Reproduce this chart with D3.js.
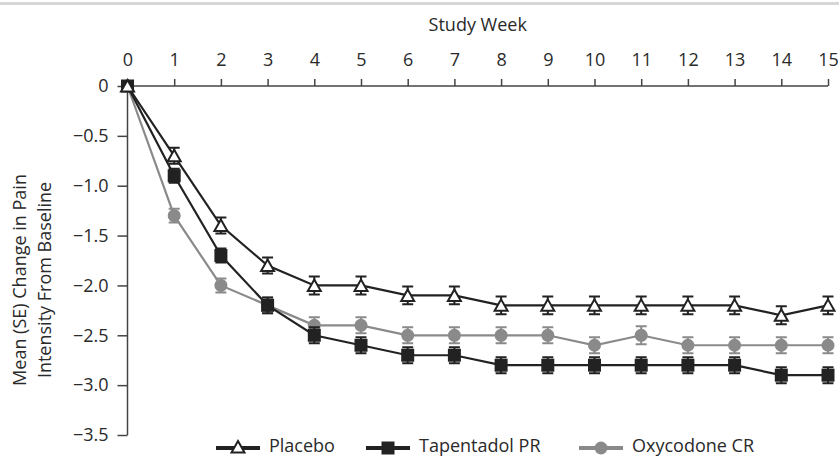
<!DOCTYPE html>
<meta charset="utf-8">
<style>
body { margin: 0; background: #fff; }
svg { display: block; font-family: "Open Sans", sans-serif; }
.axis text { font-family: "Open Sans", sans-serif; font-size: 18px; fill: #2a2a2a; }
.axis path, .axis line { stroke: #444; stroke-width: 1.5px; }
</style>
<body>
<svg width="839" height="457"></svg>
<script src="https://cdn.jsdelivr.net/npm/d3@7"></script>
<script>

var weeks = [0, 1, 2, 3, 4, 5, 6, 7, 8, 9, 10, 11, 12, 13, 14, 15];
var yTicks = [0, -0.5, -1.0, -1.5, -2.0, -2.5, -3.0, -3.5];

var placebo    = [0, -0.7, -1.4, -1.8, -2.0, -2.0, -2.1, -2.1, -2.2, -2.2, -2.2, -2.2, -2.2, -2.2, -2.3, -2.2];
var tapentadol = [0, -0.9, -1.7, -2.2, -2.5, -2.6, -2.7, -2.7, -2.8, -2.8, -2.8, -2.8, -2.8, -2.8, -2.9, -2.9];
var oxycodone  = [0, -1.3, -2.0, -2.2, -2.4, -2.4, -2.5, -2.5, -2.5, -2.5, -2.6, -2.5, -2.6, -2.6, -2.6, -2.6];

var placeboSE    = [0, 0.08, 0.08, 0.08, 0.09, 0.09, 0.09, 0.09, 0.09, 0.09, 0.09, 0.09, 0.09, 0.09, 0.09, 0.09];
var tapentadolSE = [0, 0.07, 0.07, 0.08, 0.08, 0.08, 0.08, 0.08, 0.08, 0.08, 0.08, 0.08, 0.08, 0.08, 0.08, 0.08];
var oxycodoneSE  = [0, 0.07, 0.07, 0.08, 0.08, 0.08, 0.08, 0.08, 0.08, 0.08, 0.08, 0.09, 0.08, 0.08, 0.08, 0.08];

var seriesNames = ["Placebo", "Tapentadol PR", "Oxycodone CR"];

var series = [
  {name: seriesNames[0], values: placebo, se: placeboSE, color: "#222", symbol: "triangle"},
  {name: seriesNames[1], values: tapentadol, se: tapentadolSE, color: "#222", symbol: "square"},
  {name: seriesNames[2], values: oxycodone, se: oxycodoneSE, color: "#8a8a8a", symbol: "circle"}
];

var svg = d3.select("svg");

// thin grey rule along the very top
svg.append("rect")
    .attr("x", 0).attr("y", 2)
    .attr("width", 839).attr("height", 3)
    .attr("fill", "#d6d6d6");

var x = d3.scaleLinear().domain([0, 15]).range([127.5, 828]),
    y = d3.scaleLinear().domain([-3.5, 0]).range([435, 86]);

// x axis on top
var xAxis = svg.append("g")
    .attr("class", "axis")
    .attr("transform", "translate(0," + y(0) + ")")
    .call(d3.axisTop(x).tickValues(weeks).tickSize(7).tickSizeOuter(0).tickPadding(13));
xAxis.select(".domain").attr("d", "M" + x(0) + ",0H" + x(15));

svg.append("text")
    .attr("x", (x(0) + x(15)) / 2)
    .attr("y", 31)
    .attr("text-anchor", "middle")
    .style("font-size", "18px")
    .style("fill", "#2a2a2a")
    .text("Study Week");

// y axis
var yAxis = svg.append("g")
    .attr("class", "axis")
    .attr("transform", "translate(" + x(0) + ",0)")
    .call(d3.axisLeft(y).tickValues(yTicks).tickSize(10).tickSizeOuter(0).tickPadding(9)
      .tickFormat(function(d) { return d === 0 ? "0" : d3.format(".1f")(d).replace("-", "\u2212"); }));
yAxis.select(".domain").attr("d", "M0," + y(-3.5) + "V" + y(0));

var title = svg.append("text")
    .attr("transform", "translate(0,280) rotate(-90)")
    .attr("text-anchor", "middle")
    .style("font-size", "18px")
    .style("fill", "#2a2a2a");
title.append("tspan").attr("x", 0).attr("y", 26).text("Mean (SE) Change in Pain");
title.append("tspan").attr("x", 0).attr("y", 51).text("Intensity From Baseline");

var line = d3.line()
    .x(function(d, i) { return x(weeks[i]); })
    .y(function(d) { return y(d); });

function drawSymbol(sel, s, cx, cy) {
  if (s.symbol === "triangle") {
    sel.append("path")
        .attr("d", "M" + cx + "," + (cy - 6) + "L" + (cx + 6.5) + "," + (cy + 5.5) + "L" + (cx - 6.5) + "," + (cy + 5.5) + "Z")
        .attr("fill", "#fff").attr("stroke", s.color).attr("stroke-width", 2);
  } else if (s.symbol === "square") {
    sel.append("rect")
        .attr("x", cx - 6.5).attr("y", cy - 6.5).attr("width", 13).attr("height", 13)
        .attr("fill", s.color);
  } else {
    sel.append("circle")
        .attr("cx", cx).attr("cy", cy).attr("r", 6.5)
        .attr("fill", s.color);
  }
}

// draw back to front: oxycodone, tapentadol, placebo
series.slice().reverse().forEach(function(s) {
  var g = svg.append("g");
  g.append("path")
      .attr("d", line(s.values))
      .attr("fill", "none")
      .attr("stroke", s.color)
      .attr("stroke-width", 2.2);

  s.values.forEach(function(v, i) {
    if (s.se[i] > 0) {
      var cx = x(weeks[i]);
      g.append("path")
          .attr("d", "M" + cx + "," + y(v + s.se[i]) + "V" + y(v - s.se[i]) +
                     "M" + (cx - 5.5) + "," + y(v + s.se[i]) + "H" + (cx + 5.5) +
                     "M" + (cx - 5.5) + "," + y(v - s.se[i]) + "H" + (cx + 5.5))
          .attr("stroke", s.color)
          .attr("stroke-width", 2)
          .attr("fill", "none");
    }
  });

  s.values.forEach(function(v, i) {
    drawSymbol(g, s, x(weeks[i]), y(v));
  });
});

// legend
var legendX = [216, 366, 579];
series.forEach(function(s, i) {
  var lg = svg.append("g");
  var ly = 448;
  lg.append("line")
      .attr("x1", legendX[i]).attr("x2", legendX[i] + 44)
      .attr("y1", ly).attr("y2", ly)
      .attr("stroke", s.color).attr("stroke-width", 4);
  drawSymbol(lg, s, legendX[i] + 22, ly - (s.symbol === "triangle" ? 1 : 0));
  lg.append("text")
      .attr("x", legendX[i] + 53)
      .attr("y", 452)
      .style("font-size", "18px")
      .style("fill", "#2a2a2a")
      .text(s.name);
});

</script>
</body>
